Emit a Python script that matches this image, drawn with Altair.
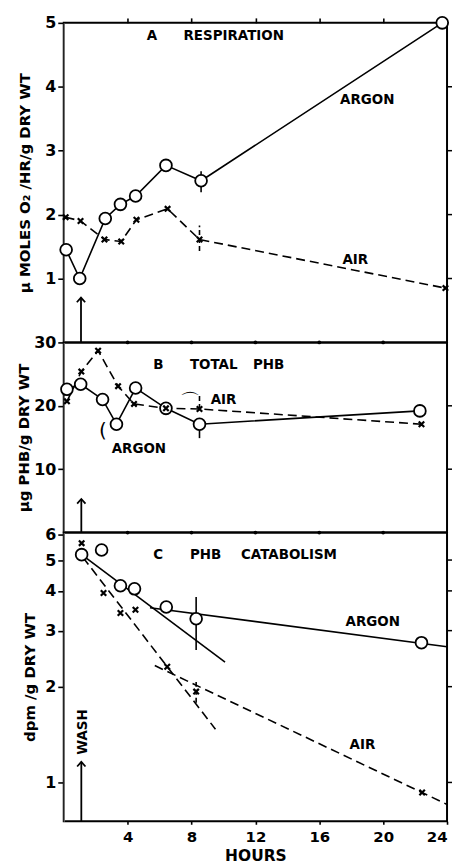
import altair as alt
import pandas as pd

FONT = "DejaVu Sans"
W = 385
HA, HB, HC = 321, 191, 290

hour_ticks = [4, 8, 12, 16, 20, 24]
border_dot_hours = [4, 8, 12, 16, 20]

# ---- Panel A: respiration
a_argon_h = [0.15, 1.0, 2.6, 3.55, 4.5, 6.4, 8.6, 23.7]
a_argon_v = [1.45, 1.0, 1.94, 2.16, 2.29, 2.77, 2.53, 5.0]
a_air_h = [0.12, 1.05, 2.55, 3.6, 4.55, 6.5, 8.5, 23.9]
a_air_v = [1.96, 1.9, 1.61, 1.58, 1.92, 2.09, 1.61, 0.85]
a_err_argon = ([8.6], [2.35], [2.68])
a_err_air = ([8.5], [1.43], [1.83])
a_yticks = [1, 2, 3, 4, 5]
a_rticks = [1, 2, 3, 4]
a_arrow = ([1.08], [0.0], [0.70])
a_labels = ["A", "RESPIRATION", "ARGON", "AIR"]
a_label_h = [5.2, 7.5, 17.3, 17.45]
a_label_v = [4.8, 4.8, 3.8, 1.29]

# ---- Panel B: total PHB
b_argon_h = [0.2, 1.06, 2.43, 3.3, 4.5, 6.4, 8.5, 22.3]
b_argon_v = [22.6, 23.4, 21.0, 17.1, 22.8, 19.6, 17.1, 19.2]
b_air_h = [0.2, 1.1, 2.15, 3.4, 4.4, 6.4, 8.5, 22.4]
b_air_v = [20.7, 25.4, 28.7, 23.1, 20.3, 19.6, 19.5, 17.1]
b_err_argon = ([8.5], [14.9], [17.1])
b_err_air = ([8.5], [19.5], [21.6])
b_yticks = [10, 20, 30]
b_rticks = [10, 20]
b_arrow = ([1.1], [0.0], [5.3])
b_labels = ["B", "TOTAL", "PHB", "AIR", "ARGON"]
b_label_h = [5.6, 7.9, 11.85, 9.2, 3.0]
b_label_v = [26.5, 26.5, 26.5, 20.9, 13.2]
b_brackets = ["(", "⌒"]
b_bracket_h = [2.45, 7.9]
b_bracket_v = [16.0, 20.6]

# ---- Panel C: PHB catabolism (log scale)
c_argon_h = [1.12, 2.37, 3.55, 4.43, 6.42, 8.29, 22.4]
c_argon_v = [5.2, 5.38, 4.15, 4.06, 3.56, 3.27, 2.75]
c_air_h = [1.12, 2.49, 3.55, 4.49, 6.48, 8.29, 22.44]
c_air_v = [5.65, 3.94, 3.41, 3.49, 2.31, 1.93, 0.93]
c_fit_argon_seg = ["a1", "a1", "a2", "a2"]
c_fit_argon_h = [1.12, 10.1, 5.4, 24.0]
c_fit_argon_v = [5.2, 2.39, 3.54, 2.67]
c_fit_air_seg = ["b1", "b1", "b2", "b2"]
c_fit_air_h = [1.2, 9.5, 5.7, 24.0]
c_fit_air_v = [5.1, 1.47, 2.33, 0.853]
c_err_argon = ([8.29], [2.61], [3.83])
c_err_air = ([8.29], [1.78], [2.07])
c_yticks = [1, 2, 3, 4, 5, 6]
c_rticks = [1, 2, 3, 4, 5]
c_arrow = ([1.1], [0.755], [1.16])
c_labels = ["C", "PHB", "CATABOLISM", "ARGON", "AIR"]
c_label_h = [5.6, 7.9, 11.1, 17.65, 17.9]
c_label_v = [5.19, 5.19, 5.19, 3.2, 1.315]
c_wash = ["WASH"]
c_wash_h = [1.2]
c_wash_v = [1.44]


def df(h, v, **extra):
    d = {"h": h, "v": v}
    d.update(extra)
    return pd.DataFrame(d)


xscale = alt.Scale(domain=[0, 24], nice=False, zero=False)
LINE = dict(color="black", strokeWidth=1.6)
DASH = [9, 5]
XPATH = "M-1,-1L1,1M1,-1L-1,1"
CHEVRON = "M-1,1.1L0,0L1,1.1"
TXT = dict(font=FONT, fontWeight="bold", fontSize=13.5, color="black")


def panel(H, yscale, yvalues, ytitle, tpad, xaxis, argon, air, argon_fit, air_fit,
          err_argon, err_air, arrow, labels, rticks, yfmt=None, extras=()):
    X = alt.X("h:Q", scale=xscale, axis=xaxis)
    axkw = dict(values=yvalues, title=ytitle, titlePadding=tpad, tickSize=6, orient="left")
    if yfmt:
        axkw["format"] = yfmt
    Y = alt.Y("v:Q", scale=yscale, axis=alt.Axis(**axkw))
    layers = []
    if argon_fit is None:
        layers.append(alt.Chart(argon).mark_line(**LINE).encode(x=X, y=Y))
        layers.append(alt.Chart(air).mark_line(strokeDash=DASH, **LINE).encode(x=X, y=Y))
    else:
        layers.append(alt.Chart(argon_fit).mark_line(**LINE).encode(x=X, y=Y, detail="seg:N"))
        layers.append(alt.Chart(air_fit).mark_line(strokeDash=DASH, **LINE).encode(x=X, y=Y, detail="seg:N"))
    # error bars
    layers.append(alt.Chart(df(err_argon[0], err_argon[1], v2=err_argon[2]))
                  .mark_rule(color="black", strokeWidth=1.6)
                  .encode(x=X, y=Y, y2=alt.Y2("v2:Q")))
    layers.append(alt.Chart(df(err_air[0], err_air[1], v2=err_air[2]))
                  .mark_rule(color="black", strokeWidth=1.6, strokeDash=[5, 3])
                  .encode(x=X, y=Y, y2=alt.Y2("v2:Q")))
    # arrow
    layers.append(alt.Chart(df(arrow[0], arrow[1], v2=arrow[2]))
                  .mark_rule(color="black", strokeWidth=1.8)
                  .encode(x=X, y=Y, y2=alt.Y2("v2:Q")))
    layers.append(alt.Chart(df(arrow[0], arrow[2]))
                  .mark_point(shape=CHEVRON, filled=False, stroke="black", strokeWidth=1.8, size=70, opacity=1)
                  .encode(x=X, y=Y))
    # markers
    layers.append(alt.Chart(argon).mark_point(shape="circle", filled=True, fill="white", stroke="black",
                                              strokeWidth=1.8, size=140, opacity=1).encode(x=X, y=Y))
    layers.append(alt.Chart(air).mark_point(shape=XPATH, filled=False, stroke="black",
                                            strokeWidth=2.2, size=30, opacity=1).encode(x=X, y=Y))
    # labels
    layers.append(alt.Chart(labels).mark_text(align="left", baseline="middle", **TXT)
                  .encode(x=X, y=Y, text="label:N"))
    # right-side ticks
    layers.append(alt.Chart(pd.DataFrame({"v": rticks})).mark_rule(color="black", strokeWidth=1.5)
                  .encode(x=alt.value(W), x2=alt.value(W + 5), y=Y))
    for e in extras:
        layers.append(e(X, Y))
    return alt.layer(*layers).properties(width=W, height=H)


# Panel A
xaxis_a = alt.Axis(orient="top", values=border_dot_hours, labels=False, title=None, tickSize=5, domain=False)
pa = panel(HA, alt.Scale(domain=[0, 5], nice=False, zero=False), a_yticks,
           "μ MOLES O₂ /HR/g DRY WT", 12, xaxis_a,
           df(a_argon_h, a_argon_v), df(a_air_h, a_air_v), None, None,
           a_err_argon, a_err_air, a_arrow,
           df(a_label_h, a_label_v, label=a_labels), a_rticks)


# Panel B
def b_dots(X, Y):
    d = pd.DataFrame({"h": border_dot_hours * 2, "v": [30] * 5 + [0] * 5})
    return alt.Chart(d).mark_point(shape="circle", filled=True, color="black", size=14, opacity=1).encode(x=X, y=Y)


def b_brk(X, Y):
    d = df(b_bracket_h, b_bracket_v, label=b_brackets)
    return alt.Chart(d).mark_text(align="center", baseline="middle", font=FONT,
                                  fontSize=20, color="black").encode(x=X, y=Y, text="label:N")


pb = panel(HB, alt.Scale(domain=[0, 30], nice=False, zero=False), b_yticks,
           "μg PHB/g DRY WT", 2, None,
           df(b_argon_h, b_argon_v), df(b_air_h, b_air_v), None, None,
           b_err_argon, b_err_air, b_arrow,
           df(b_label_h, b_label_v, label=b_labels), b_rticks, extras=(b_dots, b_brk))


# Panel C
def c_wash_layer(X, Y):
    d = df(c_wash_h, c_wash_v, label=c_wash)
    return alt.Chart(d).mark_text(angle=270, align="center", baseline="middle", **TXT).encode(
        x=X, y=Y, text="label:N")


xaxis_c = alt.Axis(orient="bottom", values=hour_ticks, title="HOURS", tickSize=3, labelPadding=5,
                   titlePadding=4, labelFontSize=15, titleFontSize=15.5, domain=False)
pc = panel(HC, alt.Scale(type="log", domain=[0.755, 6.1], nice=False), c_yticks,
           "dpm /g DRY WT", 7, xaxis_c,
           df(c_argon_h, c_argon_v), df(c_air_h, c_air_v),
           df(c_fit_argon_h, c_fit_argon_v, seg=c_fit_argon_seg),
           df(c_fit_air_h, c_fit_air_v, seg=c_fit_air_seg),
           c_err_argon, c_err_air, c_arrow,
           df(c_label_h, c_label_v, label=c_labels), c_rticks, yfmt="d", extras=(c_wash_layer,))

chart = (
    alt.vconcat(pa, pb, pc, spacing=0, bounds="flush")
    .properties(padding={"left": 7, "top": 2, "right": 0, "bottom": 0})
    .configure_view(stroke="black", strokeWidth=2)
    .configure_axis(labelFont=FONT, labelFontWeight="bold", labelFontSize=16, labelColor="black",
                    titleFont=FONT, titleFontWeight="bold", titleFontSize=15, titleColor="black",
                    tickColor="black", tickWidth=1.6, grid=False, labelPadding=2)
)

chart.save("out.html", embed_options={"renderer": "svg", "actions": False})
